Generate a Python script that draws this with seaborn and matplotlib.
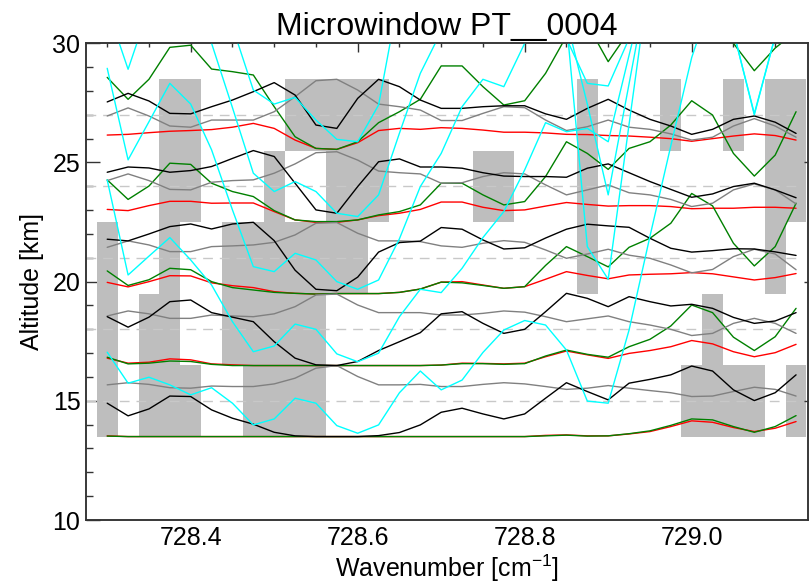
import numpy as np
import pandas as pd
import matplotlib
matplotlib.use("Agg")
import matplotlib.pyplot as plt
import seaborn as sns
from matplotlib.ticker import MultipleLocator

# spectral grid of the microwindow [cm-1]
wn = [728.300, 728.325, 728.350, 728.375, 728.400, 728.425, 728.450, 728.475,
      728.500, 728.525, 728.550, 728.575, 728.600, 728.625, 728.650, 728.675,
      728.700, 728.725, 728.750, 728.775, 728.800, 728.825, 728.850, 728.875,
      728.900, 728.925, 728.950, 728.975, 729.000, 729.025, 729.050, 729.075,
      729.100, 729.125]

# tangent altitude bands (lower edge, km) and masked grid points per band
band_low = [13.5, 16.5, 19.5, 22.5, 25.5]
mask_b1 = [0, 2, 3, 4, 7, 8, 9, 10, 28, 29, 30, 31, 33]
mask_b2 = [0, 2, 3, 6, 7, 8, 9, 10, 29]
mask_b3 = [0, 3, 6, 7, 8, 9, 10, 11, 12, 23, 32]
mask_b4 = [3, 4, 8, 11, 12, 13, 18, 19, 23, 32, 33]
mask_b5 = [3, 4, 9, 10, 11, 12, 13, 23, 27, 30, 32, 33]
ref_levels = [15, 18, 21, 24, 27]

# band 1 (13.5 km)
red_1 = [13.53, 13.5, 13.5, 13.5, 13.5, 13.5, 13.5, 13.5, 13.5, 13.5, 13.5, 13.5,
         13.5, 13.5, 13.5, 13.5, 13.5, 13.5, 13.5, 13.5, 13.5, 13.55, 13.57, 13.53,
         13.53, 13.61, 13.71, 13.92, 14.16, 14.1, 13.88, 13.71, 13.85, 14.13]
green_1 = [13.52, 13.5, 13.5, 13.5, 13.5, 13.5, 13.5, 13.5, 13.5, 13.5, 13.5, 13.5,
           13.5, 13.5, 13.5, 13.5, 13.5, 13.5, 13.5, 13.5, 13.5, 13.53, 13.56, 13.52,
           13.53, 13.62, 13.74, 13.97, 14.24, 14.2, 13.92, 13.68, 13.92, 14.38]
black_1 = [14.9, 14.37, 14.66, 15.2, 15.18, 14.62, 14.27, 14.02, 13.68, 13.53, 13.5, 13.5,
           13.5, 13.54, 13.67, 13.99, 14.52, 14.69, 14.45, 14.24, 14.45, 15.11, 15.76, 15.39,
           15.04, 15.74, 15.9, 16.09, 16.46, 16.25, 15.46, 15.01, 15.34, 16.09]
gray_1 = [15.67, 15.76, 15.69, 15.55, 15.53, 15.62, 15.6, 15.6, 15.71, 15.95, 16.37, 16.48,
          16.02, 15.67, 15.67, 15.69, 15.6, 15.6, 15.69, 15.76, 15.71, 15.6, 15.48, 15.53,
          15.64, 15.53, 15.43, 15.34, 15.18, 15.2, 15.39, 15.57, 15.48, 15.2]

# band 2 (16.5 km)
red_2 = [16.79, 16.58, 16.62, 16.76, 16.72, 16.55, 16.51, 16.48, 16.48, 16.48, 16.48, 16.48,
         16.48, 16.48, 16.48, 16.48, 16.5, 16.58, 16.57, 16.55, 16.58, 16.85, 17.09, 16.93,
         16.78, 16.99, 17.11, 17.27, 17.53, 17.39, 17.06, 16.85, 17.02, 17.37]
green_2 = [16.83, 16.55, 16.58, 16.67, 16.65, 16.53, 16.48, 16.48, 16.48, 16.48, 16.48, 16.48,
           16.48, 16.48, 16.48, 16.48, 16.5, 16.56, 16.56, 16.53, 16.56, 16.88, 17.13, 16.95,
           16.83, 17.27, 17.58, 18.14, 19.02, 18.7, 17.67, 17.11, 17.69, 18.88]
black_2 = [18.53, 18.09, 18.51, 19.16, 19.23, 18.7, 18.51, 18.32, 17.48, 16.79, 16.51, 16.48,
           16.65, 17.11, 17.48, 17.86, 18.65, 18.74, 18.25, 17.83, 18.0, 18.74, 19.51, 19.3,
           18.95, 19.37, 19.16, 18.98, 19.05, 18.88, 18.5, 18.25, 18.35, 18.7]
gray_2 = [18.56, 18.77, 18.65, 18.46, 18.46, 18.6, 18.56, 18.53, 18.65, 18.95, 19.44, 19.48,
          19.02, 18.7, 18.7, 18.7, 18.6, 18.6, 18.67, 18.77, 18.72, 18.53, 18.32, 18.44,
          18.56, 18.32, 18.18, 18.0, 17.74, 17.83, 18.25, 18.46, 18.25, 17.83]

# band 3 (19.5 km)
red_3 = [19.97, 19.78, 20.0, 20.25, 20.24, 19.95, 19.83, 19.75, 19.58, 19.51, 19.48, 19.5,
         19.5, 19.5, 19.55, 19.69, 19.98, 20.0, 19.86, 19.72, 19.79, 20.1, 20.42, 20.26,
         20.12, 20.28, 20.31, 20.33, 20.38, 20.33, 20.2, 20.07, 20.17, 20.34]
green_3 = [20.45, 19.84, 20.08, 20.56, 20.5, 20.0, 19.75, 19.65, 19.55, 19.51, 19.48, 19.5,
           19.5, 19.5, 19.55, 19.69, 19.98, 19.95, 19.84, 19.72, 19.79, 20.68, 21.47, 21.05,
           20.62, 21.44, 21.82, 22.45, 23.7, 23.18, 21.61, 20.66, 21.47, 23.29]
black_3 = [21.78, 21.71, 22.0, 22.31, 22.42, 22.21, 22.42, 22.49, 21.72, 20.48, 19.68, 19.62,
           20.19, 21.24, 21.64, 21.7, 22.27, 22.2, 21.75, 21.37, 21.42, 21.83, 22.2, 22.41,
           22.34, 22.28, 21.82, 21.4, 21.24, 21.3, 21.38, 21.37, 21.25, 21.1]
gray_3 = [21.44, 21.71, 21.54, 21.26, 21.26, 21.47, 21.5, 21.54, 21.65, 21.96, 22.45, 22.48,
          22.03, 21.71, 21.71, 21.68, 21.5, 21.44, 21.61, 21.72, 21.65, 21.33, 20.98, 21.16,
          21.36, 21.11, 20.98, 20.7, 20.37, 20.51, 21.05, 21.36, 21.16, 20.5]

# band 4 (22.5 km)
red_4 = [23.03, 22.98, 23.19, 23.37, 23.37, 23.29, 23.3, 23.3, 22.94, 22.59, 22.49, 22.49,
         22.59, 22.77, 22.87, 23.03, 23.34, 23.34, 23.12, 22.98, 23.01, 23.17, 23.32, 23.24,
         23.17, 23.19, 23.19, 23.15, 23.06, 23.08, 23.08, 23.12, 23.12, 23.08]
green_4 = [24.27, 23.45, 24.01, 24.97, 24.92, 24.13, 23.78, 23.57, 22.98, 22.59, 22.52, 22.52,
           22.59, 22.8, 22.94, 23.22, 24.13, 24.13, 23.64, 23.22, 23.36, 24.41, 25.87, 25.38,
           24.71, 25.59, 25.87, 26.57, 27.59, 26.99, 25.38, 24.43, 25.31, 27.13]
black_4 = [24.59, 24.81, 24.77, 24.59, 24.66, 24.83, 25.17, 25.5, 25.25, 24.13, 23.01, 22.87,
           23.99, 25.03, 25.15, 24.81, 24.81, 24.76, 24.57, 24.43, 24.41, 24.41, 24.38, 24.76,
           24.94, 24.57, 24.2, 23.87, 23.54, 23.68, 23.99, 24.13, 23.85, 23.52]
gray_4 = [24.24, 24.52, 24.24, 23.87, 23.85, 24.17, 24.24, 24.27, 24.55, 24.94, 25.41, 25.45,
          25.1, 24.64, 24.57, 24.52, 24.13, 24.15, 24.41, 24.57, 24.52, 24.06, 23.64, 23.85,
          24.06, 23.73, 23.64, 23.45, 23.15, 23.29, 23.85, 24.1, 23.85, 23.26]

# band 5 (25.5 km)
red_5 = [26.15, 26.18, 26.25, 26.31, 26.34, 26.38, 26.48, 26.64, 26.43, 25.94, 25.59, 25.55,
         25.83, 26.34, 26.43, 26.39, 26.46, 26.43, 26.36, 26.27, 26.27, 26.24, 26.18, 26.17,
         26.13, 26.11, 26.06, 26.0, 25.89, 26.0, 26.11, 26.2, 26.13, 25.94]
green_5 = [28.57, 27.65, 28.49, 29.83, 29.92, 28.92, 28.81, 28.67, 27.34, 26.08, 25.59, 25.55,
           25.87, 26.67, 27.13, 27.65, 29.05, 29.05, 28.18, 27.41, 27.59, 28.74, 30.3, 30.8,
           29.23, 30.5, 31.0, 31.5, 31.0, 30.5, 30.0, 28.85, 29.8, 30.5]
black_5 = [27.54, 27.9, 27.58, 27.06, 27.04, 27.34, 27.62, 27.97, 28.35, 27.83, 26.57, 26.43,
           27.69, 28.49, 28.18, 27.62, 27.27, 27.27, 27.34, 27.38, 27.38, 27.04, 26.81, 27.27,
           27.65, 27.2, 26.81, 26.53, 26.18, 26.39, 26.81, 26.95, 26.69, 26.22]
gray_5 = [26.95, 27.29, 26.95, 26.53, 26.48, 26.78, 26.78, 26.78, 27.13, 27.76, 28.43, 28.49,
          28.04, 27.45, 27.34, 27.2, 26.76, 26.76, 27.06, 27.34, 27.3, 26.78, 26.34, 26.5,
          26.78, 26.48, 26.39, 26.2, 25.94, 26.06, 26.53, 26.84, 26.53, 26.06]

# cyan curves (run off the top of the plot in places)
cyan_1 = [17.04, 15.74, 15.99, 15.67, 15.25, 15.55, 14.9, 13.99, 14.24, 15.11, 14.9, 13.96,
          13.64, 13.99, 15.34, 16.25, 15.46, 15.87, 17.03, 17.97, 18.37, 18.18, 17.13, 14.99,
          14.9, 17.97, 21.9, 25.7, 29.4, 32.0, 30.5, 27.0, 30.3, 33.0]
cyan_2 = [24.27, 20.28, 21.07, 21.85, 20.91, 19.86, 18.32, 17.06, 17.3, 18.22, 18.0, 16.97,
          16.64, 17.0, 18.53, 19.68, 19.54, 20.56, 21.85, 22.94, 24.69, 26.67, 26.29, 26.43,
          25.87, 29.5, 33.0, 33.0, 33.0, 31.0, 30.5, 27.05, 30.3, 33.0]
cyan_3 = [28.95, 25.11, 26.71, 28.32, 27.45, 25.53, 23.01, 20.63, 20.42, 21.19, 20.91, 20.0,
          19.68, 20.07, 21.8, 23.99, 25.38, 27.34, 28.49, 28.18, 30.0, 32.0, 31.0, 27.45,
          23.64, 28.3, 33.0, 33.0, 33.0, 33.0, 33.0, 33.0, 33.0, 33.0]
cyan_4 = [33.0, 33.0, 33.0, 33.0, 32.0, 30.0, 27.3, 24.55, 23.78, 24.2, 23.78, 22.87,
          22.73, 23.64, 26.23, 28.74, 30.5, 33.0, 33.0, 33.0, 33.0, 33.0, 30.9, 21.47,
          20.1, 26.6, 33.0, 33.0, 33.0, 33.0, 33.0, 33.0, 33.0, 33.0]
cyan_5 = [31.5, 28.91, 31.5, 33.0, 33.0, 33.0, 30.7, 28.04, 27.45, 27.73, 26.78, 25.97,
          25.87, 27.41, 32.1, 33.0, 33.0, 33.0, 33.0, 33.0, 33.0, 33.0, 30.2, 28.32,
          28.21, 30.2, 33.0, 33.0, 33.0, 33.0, 33.0, 33.0, 33.0, 33.0]

curves = {
    "red": [red_1, red_2, red_3, red_4, red_5],
    "green": [green_1, green_2, green_3, green_4, green_5],
    "gray": [gray_1, gray_2, gray_3, gray_4, gray_5],
    "black": [black_1, black_2, black_3, black_4, black_5],
    "cyan": [cyan_1, cyan_2, cyan_3, cyan_4, cyan_5],
}
palette = {"red": "#ff0000", "green": "#008000", "gray": "#808080",
           "black": "#000000", "cyan": "#00ffff"}

rows = []
for kind, lines in curves.items():
    for b, vals in enumerate(lines):
        for x, y in zip(wn, vals):
            rows.append({"wn": x, "alt": y, "kind": kind, "band": b})
df = pd.DataFrame(rows)

sns.set_style("white")
plt.rcParams["font.family"] = ["Liberation Sans", "DejaVu Sans"]
plt.rcParams["mathtext.fontset"] = "custom"
plt.rcParams["mathtext.rm"] = "Liberation Sans"
plt.rcParams["mathtext.it"] = "Liberation Sans"
plt.rcParams["text.color"] = "black"
plt.rcParams["axes.labelcolor"] = "black"

fig = plt.figure(figsize=(8.09, 5.86), dpi=100)
ax = fig.add_axes([86 / 809, 66 / 586, 722 / 809, 476.7 / 586])

# masked regions
for lo, idx in zip(band_low, [mask_b1, mask_b2, mask_b3, mask_b4, mask_b5]):
    ax.bar([wn[i] for i in idx], 3.0, bottom=lo, width=0.025,
           color="#bebebe", linewidth=0, zorder=1)

ax.hlines(ref_levels, 728.275, 729.125, colors="#c8c8c8",
          linestyles=(0, (7, 5)), linewidth=1.0, zorder=2)

sns.lineplot(data=df, x="wn", y="alt", hue="kind", units="band",
             estimator=None, sort=False, palette=palette,
             hue_order=["red", "green", "gray", "black", "cyan"],
             legend=False, linewidth=1.0, ax=ax, zorder=3)

ax.set_xlim(728.2746, 729.1393)
ax.set_ylim(10, 30)
ax.set_xticks([728.4, 728.6, 728.8, 729.0])
ax.set_xticklabels(["728.4", "728.6", "728.8", "729.0"])
ax.xaxis.set_minor_locator(MultipleLocator(0.05))
ax.set_yticks([10, 15, 20, 25, 30])
ax.yaxis.set_minor_locator(MultipleLocator(1))

ax.tick_params(axis="both", which="both", direction="in", top=True,
               right=False, labelsize=18, color="#333333", labelcolor="black")
ax.tick_params(axis="x", which="major", length=6.5, width=1, pad=4)
ax.tick_params(axis="x", which="minor", length=3, width=1)
ax.tick_params(axis="y", which="major", length=10, width=1, pad=4)
ax.tick_params(axis="y", which="minor", length=5, width=1)

twin = ax.twinx()
twin.set_ylim(10, 30)
twin.set_yticks([15, 20, 25])
twin.tick_params(axis="y", direction="in", length=3, width=1,
                 color="#333333", labelright=False)

for a in (ax, twin):
    for s in a.spines.values():
        s.set_color("#333333")
        s.set_linewidth(1.1)

ax.set_xlabel("Wavenumber [cm$^{-1}$]", fontsize=18, labelpad=2, color="black")
ax.set_ylabel("Altitude [km]", fontsize=18, labelpad=6, color="black")
ax.set_title("Microwindow PT__0004", fontsize=23, pad=6, color="black")

fig.savefig("out.png", dpi=100)
